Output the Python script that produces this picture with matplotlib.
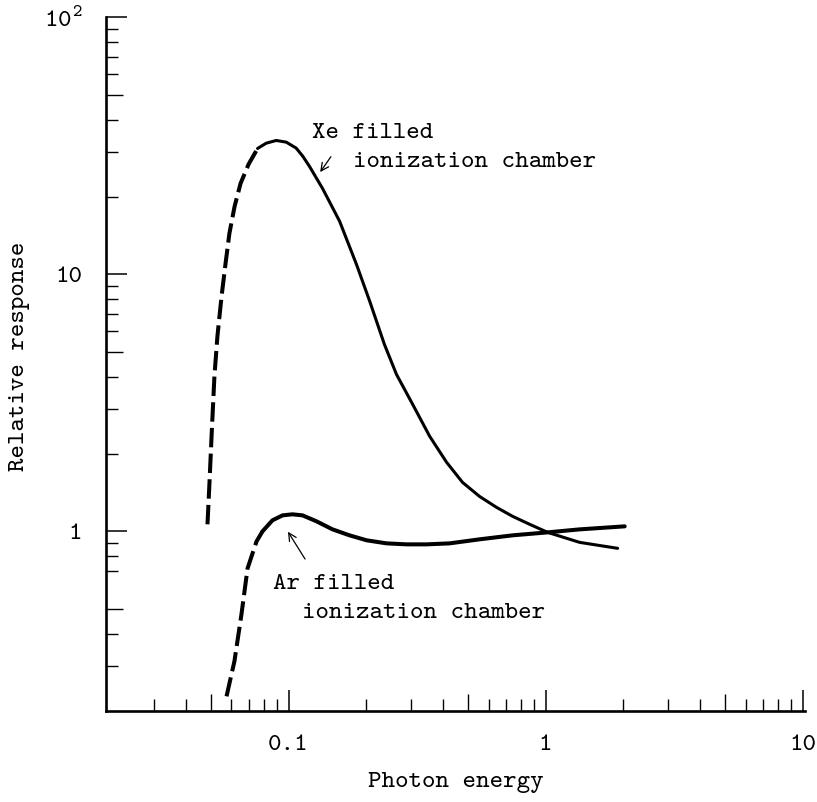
import matplotlib
matplotlib.use("Agg")
import matplotlib.pyplot as plt
from matplotlib.ticker import FixedLocator, NullFormatter

plt.rcParams['font.family'] = ['cmtt10', 'DejaVu Sans Mono']
plt.rcParams['mathtext.fontset'] = 'custom'
plt.rcParams['mathtext.rm'] = 'cmtt10'
plt.rcParams['mathtext.it'] = 'cmtt10'
plt.rcParams['mathtext.bf'] = 'cmtt10'
plt.rcParams['lines.scale_dashes'] = False

# Xe filled chamber: dashed (extrapolated) low-energy part, then measured part
xe_dash_x = [0.0484, 0.0493, 0.0502, 0.0515, 0.0529, 0.0549, 0.0569, 0.0589,
             0.0617, 0.0651, 0.0699, 0.0758]
xe_dash_y = [1.065, 1.565, 2.343, 4.01, 5.74, 8.21, 11.03, 14.44,
             18.39, 22.6, 26.8, 30.9]
xe_x = [0.0758, 0.0819, 0.0896, 0.098, 0.1071, 0.1137, 0.1207, 0.1356, 0.158,
        0.184, 0.207, 0.236, 0.263, 0.304, 0.354, 0.412, 0.475, 0.553, 0.644,
        0.744, 0.867, 1.018, 1.356, 1.905]
xe_y = [30.9, 32.4, 33.2, 32.7, 31.0, 28.8, 26.3, 21.6, 16.1,
        10.9, 7.85, 5.34, 4.08, 3.12, 2.343, 1.856, 1.551, 1.368, 1.240,
        1.144, 1.065, 0.991, 0.906, 0.859]

# Ar filled chamber
ar_dash_x = [0.0574, 0.0616, 0.0656, 0.0693, 0.0751, 0.0792]
ar_dash_y = [0.228, 0.312, 0.475, 0.718, 0.914, 1.0]
ar_x = [0.0792, 0.0866, 0.0948, 0.1036, 0.1134, 0.1285, 0.1483, 0.1727, 0.2012,
        0.2406, 0.2878, 0.344, 0.423, 0.553, 0.744, 1.018, 1.356, 2.03]
ar_y = [1.0, 1.104, 1.154, 1.165, 1.154, 1.094, 1.018, 0.965, 0.923,
        0.898, 0.890, 0.890, 0.898, 0.931, 0.965, 0.991, 1.018, 1.046]

x_major = [0.1, 1, 10]
x_labels = ['0.1', '1', '10']
y_major = [1, 10, 100]
y_labels = ['1', '10', r'$\mathrm{10}^{2}$']
x_minor = [0.03, 0.04, 0.05, 0.06, 0.07, 0.08, 0.09,
           0.2, 0.3, 0.4, 0.5, 0.6, 0.7, 0.8, 0.9,
           2, 3, 4, 5, 6, 7, 8, 9]
y_minor = [0.3, 0.4, 0.5, 0.7, 0.8, 0.9,
           2, 3, 4, 5, 6, 7, 8, 9,
           20, 30, 40, 50, 60, 70, 80, 90]

FS = 18.5

fig = plt.figure(figsize=(8.17, 8.02), dpi=100)
ax = fig.add_axes([0.1297, 0.1135, 0.8556, 0.8648])
ax.set_xscale('log')
ax.set_yscale('log')
ax.set_xlim(0.0195, 10.2)
ax.set_ylim(0.2, 100)

dash = (0, (14, 4.5))
ax.plot(xe_dash_x, xe_dash_y, color='black', lw=2.9, linestyle=dash)
ax.plot(xe_x, xe_y, color='black', lw=2.2, solid_capstyle='round', solid_joinstyle='round')
ax.plot(ar_dash_x, ar_dash_y, color='black', lw=2.9, linestyle=dash)
ax.plot(ar_x, ar_y, color='black', lw=2.9, solid_capstyle='round', solid_joinstyle='round')

for side in ('top', 'right'):
    ax.spines[side].set_visible(False)
for side in ('left', 'bottom'):
    ax.spines[side].set_linewidth(1.9)

ax.xaxis.set_major_locator(FixedLocator(x_major))
ax.xaxis.set_ticklabels(x_labels)
ax.yaxis.set_major_locator(FixedLocator(y_major))
ax.yaxis.set_ticklabels(y_labels)
ax.xaxis.set_minor_locator(FixedLocator(x_minor))
ax.yaxis.set_minor_locator(FixedLocator(y_minor))
ax.xaxis.set_minor_formatter(NullFormatter())
ax.yaxis.set_minor_formatter(NullFormatter())

ax.tick_params(which='both', direction='in', color='black', labelsize=FS, pad=17)
ax.tick_params(which='major', length=15, width=1.1)
ax.tick_params(which='minor', length=8.5, width=1.0)

# the half-decade marks are drawn a little longer
for axis, locs in ((ax.xaxis, x_minor), (ax.yaxis, y_minor)):
    for t, v in zip(axis.get_minor_ticks(len(locs)), locs):
        lead = round(v / 10 ** int(f"{v:e}".split('e')[1]), 3)
        if lead == 5:
            t.tick1line.set_markersize(12.5)

ax.set_xlabel('Photon energy', fontsize=FS)
ax.xaxis.set_label_coords(0.5, -0.088)
ax.set_ylabel('Relative response', fontsize=FS)
ax.yaxis.set_label_coords(-0.109, 0.512)

arrow = dict(arrowstyle='->', lw=0.9, color='black', mutation_scale=14)
ax.annotate('', xy=(0.1309, 24.5), xytext=(0.1483, 29.3), arrowprops=arrow)
ax.text(0.1229, 35.4, 'Xe filled', fontsize=FS, va='center', ha='left')
ax.text(0.1775, 27.3, 'ionization chamber', fontsize=FS, va='center', ha='left')

ax.annotate('', xy=(0.0982, 1.018), xytext=(0.1175, 0.764), arrowprops=arrow)
ax.text(0.0874, 0.622, 'Ar filled', fontsize=FS, va='center', ha='left')
ax.text(0.1124, 0.480, 'ionization chamber', fontsize=FS, va='center', ha='left')

fig.savefig('out.png', dpi=100, facecolor='white')
